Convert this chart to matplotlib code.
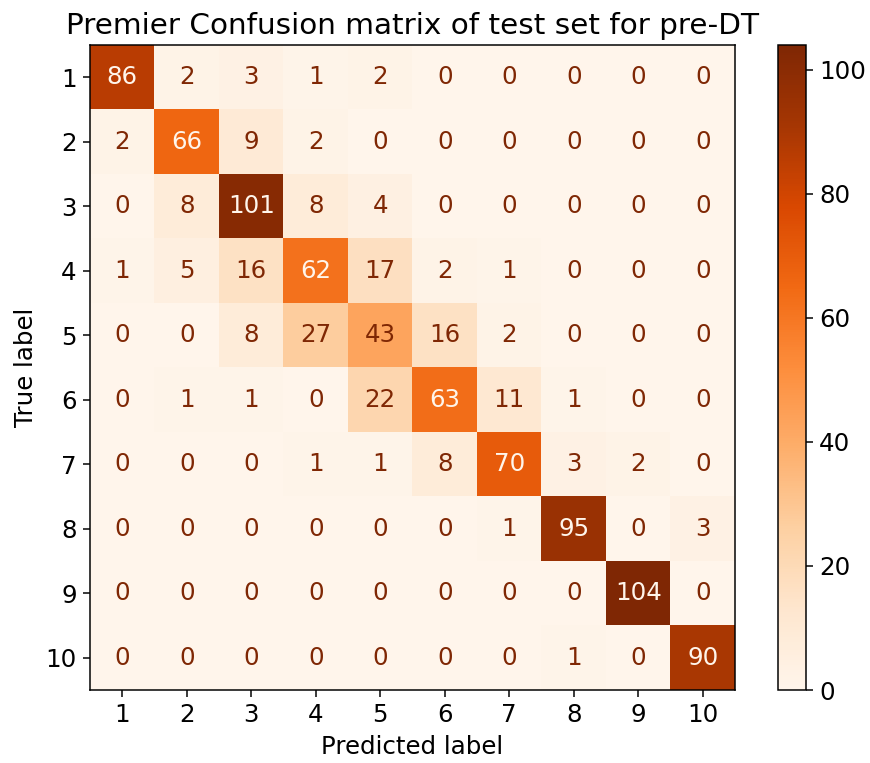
import numpy as np
import matplotlib
matplotlib.use("Agg")
import matplotlib.pyplot as plt

labels = ["1", "2", "3", "4", "5", "6", "7", "8", "9", "10"]

row_1 = [86, 2, 3, 1, 2, 0, 0, 0, 0, 0]
row_2 = [2, 66, 9, 2, 0, 0, 0, 0, 0, 0]
row_3 = [0, 8, 101, 8, 4, 0, 0, 0, 0, 0]
row_4 = [1, 5, 16, 62, 17, 2, 1, 0, 0, 0]
row_5 = [0, 0, 8, 27, 43, 16, 2, 0, 0, 0]
row_6 = [0, 1, 1, 0, 22, 63, 11, 1, 0, 0]
row_7 = [0, 0, 0, 1, 1, 8, 70, 3, 2, 0]
row_8 = [0, 0, 0, 0, 0, 0, 1, 95, 0, 3]
row_9 = [0, 0, 0, 0, 0, 0, 0, 0, 104, 0]
row_10 = [0, 0, 0, 0, 0, 0, 0, 1, 0, 90]

cm = np.array([row_1, row_2, row_3, row_4, row_5,
               row_6, row_7, row_8, row_9, row_10])

plt.rcParams['font.size'] = 13

dpi = 136
fig = plt.figure(figsize=(870 / dpi, 763 / dpi), dpi=dpi)
ax = fig.add_axes([90 / 870, 73 / 763, 645 / 870, 645 / 763])
cax = fig.add_axes([778 / 870, 73 / 763, 28 / 870, 645 / 763])

cmap = plt.get_cmap("Oranges")
im = ax.imshow(cm, interpolation="nearest", cmap=cmap)

# sklearn style: light text on dark cells
thresh = (cm.max() + cm.min()) / 2.0
for i in range(cm.shape[0]):
    for j in range(cm.shape[1]):
        color = cmap(0.0) if cm[i, j] > thresh else cmap(1.0)
        ax.text(j, i, str(cm[i, j]), ha="center", va="center", color=color)

ax.set_xticks(np.arange(len(labels)))
ax.set_yticks(np.arange(len(labels)))
ax.set_xticklabels(labels)
ax.set_yticklabels(labels)
ax.set_xlabel("Predicted label")
ax.set_ylabel("True label")
ax.set_title("Premier Confusion matrix of test set for pre-DT")

fig.colorbar(im, cax=cax)

fig.savefig("out.png", dpi=dpi)
